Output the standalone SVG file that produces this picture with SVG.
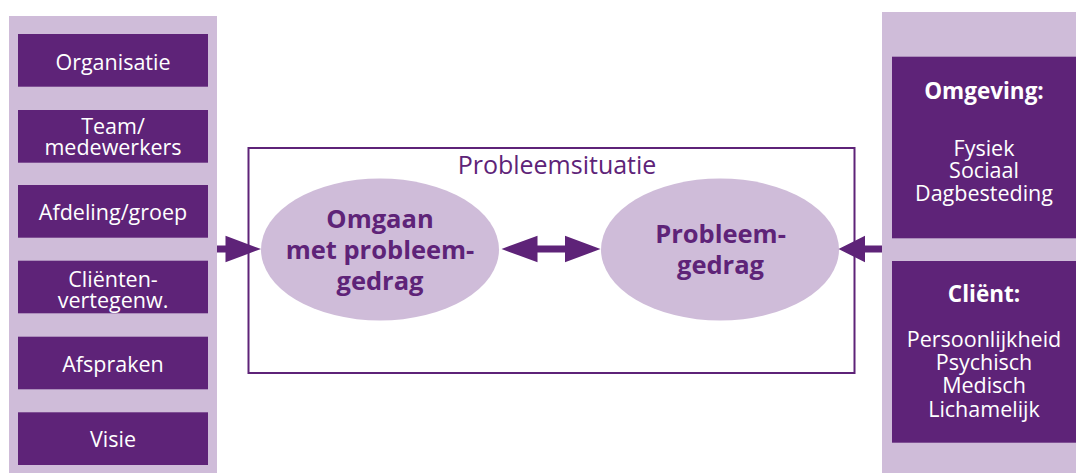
<svg xmlns="http://www.w3.org/2000/svg" width="1076" height="473" viewBox="0 0 1076 473">
<style>
.panel{fill:#CFBCD9}
.box{fill:#5E2378}
.ell{fill:#CFBCD9}
.t{font-family:"Open Sans","Liberation Sans",sans-serif;font-size:21.5px;fill:#FFFFFF;text-anchor:middle}
.tb{font-family:"Open Sans","Liberation Sans",sans-serif;font-size:22.5px;font-weight:bold;fill:#FFFFFF;text-anchor:middle}
.et{font-family:"Open Sans","Liberation Sans",sans-serif;font-size:25.5px;font-weight:bold;fill:#5E2378;text-anchor:middle}
.title{font-family:"Open Sans","Liberation Sans",sans-serif;font-size:25px;fill:#5E2378;text-anchor:middle}
.arrow{fill:#5E2378}
</style>
<rect width="1076" height="473" fill="#FFFFFF"/>
<g id="left-panel">
<rect class="panel" x="9" y="16" width="208" height="457"/>
</g>
<g id="organisatie"><rect class="box" x="18" y="34" width="190" height="52.7"/><text class="t" x="113" y="69.5">Organisatie</text></g>
<g id="team"><rect class="box" x="18" y="110" width="190" height="52.7"/><text class="t" x="113" y="134">Team/</text><text class="t" x="113" y="155">medewerkers</text></g>
<g id="afdeling"><rect class="box" x="18" y="185" width="190" height="52.7"/><text class="t" x="113" y="220">Afdeling/groep</text></g>
<g id="clientenvertegenw"><rect class="box" x="18" y="260.7" width="190" height="52.6"/><text class="t" x="113" y="286.5">Cliënten-</text><text class="t" x="113" y="307.5">vertegenw.</text></g>
<g id="afspraken"><rect class="box" x="18" y="336.7" width="190" height="52.6"/><text class="t" x="113" y="371.5">Afspraken</text></g>
<g id="visie"><rect class="box" x="18" y="412.3" width="190" height="52.7"/><text class="t" x="113" y="446.7">Visie</text></g>
<g id="probleemsituatie">
<rect x="248.5" y="148" width="606" height="225" fill="none" stroke="#5E2378" stroke-width="2"/>
<text class="title" x="557" y="174">Probleemsituatie</text>
</g>
<g id="omgaan">
<ellipse class="ell" cx="380" cy="249.5" rx="119" ry="71"/>
<text class="et" x="380" y="228">Omgaan</text>
<text class="et" x="380" y="259">met probleem-</text>
<text class="et" x="380" y="290">gedrag</text>
</g>
<g id="probleemgedrag">
<ellipse class="ell" cx="720" cy="249.5" rx="119" ry="71"/>
<text class="et" x="720.5" y="243">Probleem-</text>
<text class="et" x="720.5" y="274">gedrag</text>
</g>
<g id="right-panel">
<rect class="panel" x="882" y="12" width="194" height="461"/>
</g>
<g id="omgeving"><rect class="box" x="892" y="56.7" width="184" height="181.6"/>
<text class="tb" x="984" y="98.5">Omgeving:</text>
<text class="t" x="984" y="155.5">Fysiek</text>
<text class="t" x="984" y="178">Sociaal</text>
<text class="t" x="984" y="200.5">Dagbesteding</text></g>
<g id="client"><rect class="box" x="892" y="261" width="184" height="181.7"/>
<text class="tb" x="984" y="301.5">Cliënt:</text>
<text class="t" x="984" y="346.5">Persoonlijkheid</text>
<text class="t" x="984" y="370">Psychisch</text>
<text class="t" x="984" y="393">Medisch</text>
<text class="t" x="984" y="416.5">Lichamelijk</text></g>
<g id="connectors">
<path class="arrow" d="M217,245.6 H225.5 V235.7 L261,249 L225.5,262.3 V252.4 H217 Z"/>
<path class="arrow" d="M501.5,249 L537.5,235.7 V245.6 H565 V235.7 L600.5,249 L565,262.3 V252.4 H537.5 V262.3 Z"/>
<path class="arrow" d="M882,245.6 H865 V235.7 L838.5,249 L865,262.3 V252.4 H882 Z"/>
</g>
</svg>
